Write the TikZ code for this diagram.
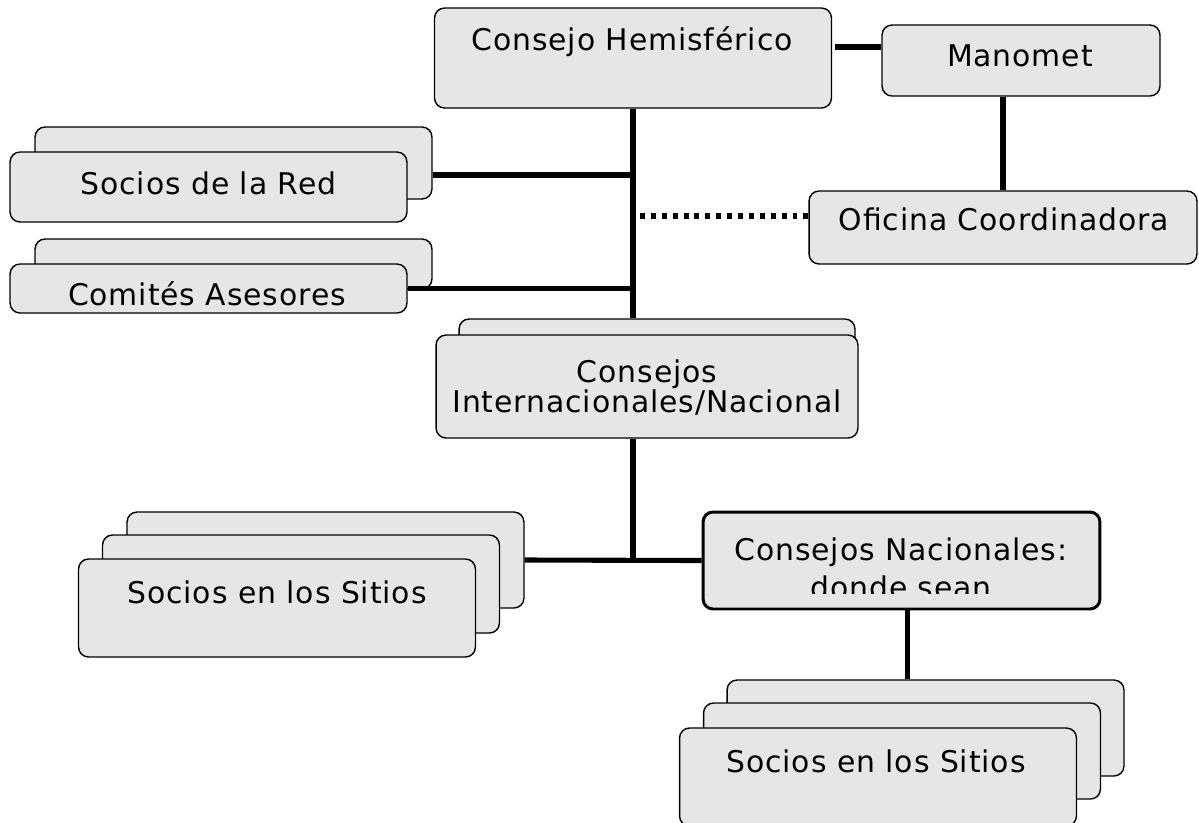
\documentclass[tikz,border=0pt]{standalone}
\usepackage{fontspec}
\setmainfont{DejaVu Sans}[LetterSpace=3]
\usepackage{tikz}
\usetikzlibrary{calc}
\definecolor{cajagris}{HTML}{E6E6E6}

\begin{document}
\begin{tikzpicture}[x=0.02cm, y=-0.02cm,
    caja/.style={draw, rectangle, rounded corners=0.2cm, fill=cajagris, line width=0.8pt, minimum width=7.94cm, inner sep=0pt},
    texto/.style={font=\fontsize{17}{17}\selectfont, inner sep=0pt, align=center, anchor=base},
    enlace/.style={line width=2.9pt}]
    \clip (0,0) rectangle (1199,822);

    % Top boxes
    \node[caja, minimum height=2cm] (Hemis) at (633,58) {};
    \node[caja, minimum width=5.56cm, minimum height=1.42cm] (Manomet) at (1021,60.5) {};
    \node[caja, minimum width=7.76cm, minimum height=1.46cm] (Oficina) at (1003,227.5) {};

    % Left stacks
    \node[caja, minimum height=1.44cm] (RedB) at (233.5,163) {};
    \node[caja, minimum height=1.40cm] (Red) at (208.5,187) {};
    \node[caja, minimum height=1.0cm] (ComiteB) at (233.5,264) {};
    \node[caja, minimum height=0.98cm] (Comite) at (208.5,288.5) {};

    % Middle stack
    \node[caja, minimum width=7.92cm, minimum height=2.02cm] (InternB) at (657,369.5) {};
    \node[caja, minimum width=8.44cm, minimum height=2.06cm] (Intern) at (647,386.5) {};

    % Site partners
    \node[caja, minimum height=1.92cm] (SitiosC) at (325.5,560) {};
    \node[caja, minimum height=1.96cm] (SitiosB) at (301,584) {};
    \node[caja, minimum height=1.96cm] (SitiosA) at (277,608) {};
    \node[caja, minimum height=1.94cm, line width=1.7pt] (Nacional) at (901.5,560.5) {};
    \node[caja, minimum height=1.92cm] (Sitios2C) at (925.5,728) {};
    \node[caja, minimum height=1.92cm] (Sitios2B) at (902,751) {};
    \node[caja, minimum height=1.96cm] (Sitios2A) at (878,777) {};

    % Texts
    \node[texto] (HemisT) at (632,50) {Consejo Hemisférico};
    \node[texto] (ManometT) at (1020,66) {Manomet};
    \node[texto] (OficinaT) at (1004,230) {Oficina Coordinadora};
    \node[texto] (RedT) at (208.5,194) {Socios de la Red};
    \node[texto] (ComiteT) at (207,305) {Comités Asesores};
    \node[texto] (InternT) at (647,412) {Consejos\\Internacionales/Nacional};
    \node[texto] (SitiosT) at (277,603) {Socios en los Sitios};
    \node[texto] (Sitios2T) at (876,772) {Socios en los Sitios};
    \begin{scope}
        \clip (703,512) rectangle (1100,593);
        \node[texto, font=\fontsize{17}{21.5}\selectfont] (NacionalT) at (901,598) {Consejos Nacionales:\\donde sean};
    \end{scope}

    % Links
    \coordinate (Cruce) at (Hemis.south |- Nacional.west);
    \draw[enlace] ([xshift=0.05cm, yshift=0.22cm]Hemis.east) -- ([yshift=0.22cm]Hemis.east -| Manomet.west);
    \draw[enlace] (Oficina.north) -- (Oficina.north |- Manomet.south);
    \draw[enlace, dash pattern=on 2.8pt off 3.4pt] ([yshift=0.23cm]Oficina.west) -- ([yshift=0.23cm]Oficina.west -| Hemis.south);
    \draw[enlace] (Hemis.south) -- (Hemis.south |- InternB.north);
    \draw[enlace] ([yshift=-0.24cm]RedB.east) -- ([yshift=-0.24cm]RedB.east -| Hemis.south);
    \draw[enlace] (Comite.east) -- (Comite.east -| Hemis.south);
    \draw[enlace] (Intern.south -| Hemis.south) -- (Cruce);
    \draw[enlace] (SitiosC.east) -- (Nacional.west);
    \draw[enlace] ([xshift=0.12cm]Nacional.south) -- ([xshift=0.12cm]Nacional.south |- Sitios2C.north);
\end{tikzpicture}
\end{document}
